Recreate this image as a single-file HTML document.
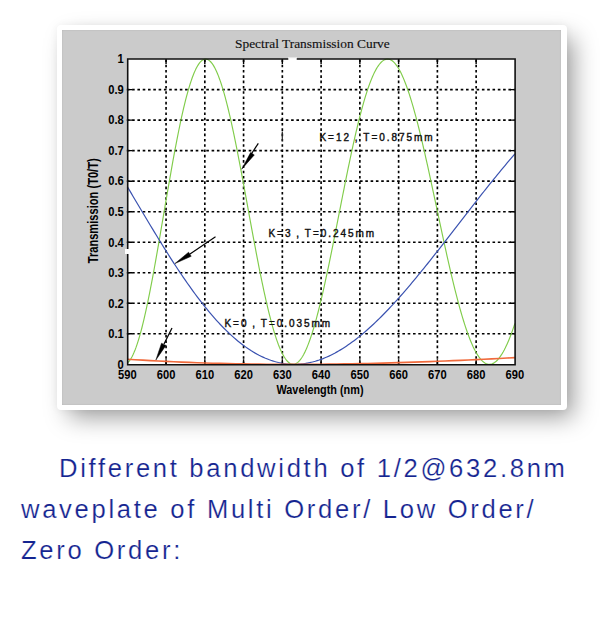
<!DOCTYPE html>
<html><head><meta charset="utf-8">
<style>
html,body{margin:0;padding:0;background:#fff;}
body{width:600px;height:618px;position:relative;overflow:hidden;font-family:"Liberation Sans",sans-serif;}
.card{position:absolute;left:57px;top:25px;width:509.5px;height:385px;background:#fff;border-radius:4px;
box-shadow:9px 10px 24px -3px rgba(0,0,0,0.40), 0 0 9px rgba(0,0,0,0.05);}
.gray{position:absolute;left:5.3px;top:5px;width:499px;height:374.5px;background:#cbcbcb;box-shadow:inset 0 0 1.5px rgba(0,0,0,0.18);}
svg{position:absolute;left:0;top:0;}
.txt{position:absolute;left:21px;top:447.8px;width:580px;color:#142490;font-size:25.6px;line-height:41.3px;letter-spacing:2.7px;-webkit-text-stroke:0.2px #fff;}
.txt p{margin:0;white-space:nowrap;}
</style></head><body>
<div class="card"><div class="gray"></div></div>
<svg width="600" height="618" viewBox="0 0 600 618">
<rect x="127.3" y="59.1" width="387.60" height="305.20" fill="#fff"/>
<g stroke="#000" stroke-width="1.65" stroke-dasharray="2.6 2.7">
<line x1="166.06" y1="59.40" x2="166.06" y2="364.30"/>
<line x1="204.82" y1="59.40" x2="204.82" y2="364.30"/>
<line x1="243.58" y1="59.40" x2="243.58" y2="364.30"/>
<line x1="282.34" y1="59.40" x2="282.34" y2="364.30"/>
<line x1="321.10" y1="59.40" x2="321.10" y2="364.30"/>
<line x1="359.86" y1="59.40" x2="359.86" y2="364.30"/>
<line x1="398.62" y1="59.40" x2="398.62" y2="364.30"/>
<line x1="437.38" y1="59.40" x2="437.38" y2="364.30"/>
<line x1="476.14" y1="59.40" x2="476.14" y2="364.30"/>
<line x1="126.80" y1="333.78" x2="514.90" y2="333.78"/>
<line x1="126.80" y1="303.26" x2="514.90" y2="303.26"/>
<line x1="126.80" y1="272.74" x2="514.90" y2="272.74"/>
<line x1="126.80" y1="242.22" x2="514.90" y2="242.22"/>
<line x1="126.80" y1="211.70" x2="514.90" y2="211.70"/>
<line x1="126.80" y1="181.18" x2="514.90" y2="181.18"/>
<line x1="126.80" y1="150.66" x2="514.90" y2="150.66"/>
<line x1="126.80" y1="120.14" x2="514.90" y2="120.14"/>
<line x1="126.80" y1="89.62" x2="514.90" y2="89.62"/>
</g>
<path d="M166.06,59.10V64.10M166.06,364.30V359.30M204.82,59.10V64.10M204.82,364.30V359.30M243.58,59.10V64.10M243.58,364.30V359.30M282.34,59.10V64.10M282.34,364.30V359.30M321.10,59.10V64.10M321.10,364.30V359.30M359.86,59.10V64.10M359.86,364.30V359.30M398.62,59.10V64.10M398.62,364.30V359.30M437.38,59.10V64.10M437.38,364.30V359.30M476.14,59.10V64.10M476.14,364.30V359.30M127.30,333.78H132.30M514.90,333.78H509.90M127.30,303.26H132.30M514.90,303.26H509.90M127.30,272.74H132.30M514.90,272.74H509.90M127.30,242.22H132.30M514.90,242.22H509.90M127.30,211.70H132.30M514.90,211.70H509.90M127.30,181.18H132.30M514.90,181.18H509.90M127.30,150.66H132.30M514.90,150.66H509.90M127.30,120.14H132.30M514.90,120.14H509.90M127.30,89.62H132.30M514.90,89.62H509.90" stroke="#000" stroke-width="1.4" fill="none"/>
<path d="M127.30,363.02 128.27,362.14 129.24,361.05 130.21,359.73 131.18,358.20 132.15,356.45 133.11,354.49 134.08,352.32 135.05,349.95 136.02,347.38 136.99,344.61 137.96,341.65 138.93,338.50 139.90,335.17 140.87,331.66 141.84,327.98 142.80,324.14 143.77,320.14 144.74,315.98 145.71,311.68 146.68,307.24 147.65,302.66 148.62,297.96 149.59,293.14 150.56,288.20 151.53,283.16 152.49,278.03 153.46,272.80 154.43,267.49 155.40,262.11 156.37,256.65 157.34,251.15 158.31,245.58 159.28,239.98 160.25,234.34 161.21,228.68 162.18,222.99 163.15,217.30 164.12,211.60 165.09,205.90 166.06,200.22 167.03,194.56 168.00,188.93 168.97,183.33 169.94,177.78 170.91,172.28 171.87,166.84 172.84,161.46 173.81,156.16 174.78,150.94 175.75,145.81 176.72,140.77 177.69,135.83 178.66,130.99 179.63,126.28 180.59,121.68 181.56,117.21 182.53,112.87 183.50,108.66 184.47,104.60 185.44,100.69 186.41,96.92 187.38,93.32 188.35,89.88 189.32,86.60 190.28,83.49 191.25,80.56 192.22,77.80 193.19,75.22 194.16,72.83 195.13,70.62 196.10,68.60 197.07,66.77 198.04,65.13 199.01,63.69 199.97,62.44 200.94,61.39 201.91,60.53 202.88,59.88 203.85,59.42 204.82,59.16 205.79,59.10 206.76,59.24 207.73,59.58 208.70,60.11 209.66,60.84 210.63,61.76 211.60,62.87 212.57,64.18 213.54,65.67 214.51,67.35 215.48,69.21 216.45,71.25 217.42,73.47 218.39,75.86 219.35,78.43 220.32,81.16 221.29,84.05 222.26,87.10 223.23,90.31 224.20,93.67 225.17,97.17 226.14,100.82 227.11,104.60 228.08,108.51 229.04,112.55 230.01,116.71 230.98,120.98 231.95,125.36 232.92,129.85 233.89,134.43 234.86,139.11 235.83,143.87 236.80,148.71 237.77,153.63 238.73,158.61 239.70,163.65 240.67,168.75 241.64,173.90 242.61,179.09 243.58,184.32 244.55,189.57 245.52,194.85 246.49,200.14 247.46,205.44 248.42,210.75 249.39,216.05 250.36,221.35 251.33,226.62 252.30,231.88 253.27,237.11 254.24,242.30 255.21,247.45 256.18,252.55 257.15,257.61 258.12,262.60 259.08,267.53 260.05,272.39 261.02,277.17 261.99,281.87 262.96,286.49 263.93,291.01 264.90,295.43 265.87,299.76 266.84,303.98 267.81,308.08 268.77,312.07 269.74,315.94 270.71,319.68 271.68,323.30 272.65,326.78 273.62,330.13 274.59,333.34 275.56,336.40 276.53,339.32 277.50,342.08 278.46,344.70 279.43,347.16 280.40,349.46 281.37,351.60 282.34,353.58 283.31,355.40 284.28,357.05 285.25,358.54 286.22,359.85 287.19,361.00 288.15,361.98 289.12,362.79 290.09,363.42 291.06,363.88 292.03,364.18 293.00,364.30 293.97,364.25 294.94,364.02 295.91,363.63 296.88,363.07 297.84,362.34 298.81,361.44 299.78,360.38 300.75,359.15 301.72,357.76 302.69,356.21 303.66,354.50 304.63,352.63 305.60,350.61 306.56,348.44 307.53,346.12 308.50,343.66 309.47,341.05 310.44,338.30 311.41,335.42 312.38,332.40 313.35,329.26 314.32,325.99 315.29,322.60 316.25,319.09 317.22,315.47 318.19,311.74 319.16,307.90 320.13,303.97 321.10,299.93 322.07,295.81 323.04,291.60 324.01,287.30 324.98,282.93 325.94,278.49 326.91,273.98 327.88,269.41 328.85,264.78 329.82,260.09 330.79,255.36 331.76,250.59 332.73,245.78 333.70,240.93 334.67,236.06 335.63,231.17 336.60,226.26 337.57,221.34 338.54,216.42 339.51,211.49 340.48,206.57 341.45,201.65 342.42,196.75 343.39,191.87 344.36,187.02 345.32,182.19 346.29,177.40 347.26,172.64 348.23,167.93 349.20,163.27 350.17,158.66 351.14,154.11 352.11,149.63 353.08,145.20 354.05,140.85 355.01,136.58 355.98,132.39 356.95,128.27 357.92,124.25 358.89,120.32 359.86,116.48 360.83,112.75 361.80,109.11 362.77,105.58 363.74,102.16 364.70,98.85 365.67,95.66 366.64,92.59 367.61,89.64 368.58,86.81 369.55,84.11 370.52,81.53 371.49,79.09 372.46,76.78 373.43,74.61 374.39,72.57 375.36,70.67 376.33,68.91 377.30,67.30 378.27,65.82 379.24,64.49 380.21,63.31 381.18,62.27 382.15,61.37 383.12,60.63 384.08,60.03 385.05,59.58 386.02,59.28 386.99,59.12 387.96,59.11 388.93,59.25 389.90,59.54 390.87,59.97 391.84,60.55 392.81,61.27 393.77,62.14 394.74,63.15 395.71,64.30 396.68,65.58 397.65,67.01 398.62,68.57 399.59,70.27 400.56,72.10 401.53,74.06 402.50,76.15 403.46,78.37 404.43,80.71 405.40,83.17 406.37,85.75 407.34,88.44 408.31,91.25 409.28,94.17 410.25,97.20 411.22,100.33 412.19,103.56 413.16,106.89 414.12,110.32 415.09,113.84 416.06,117.44 417.03,121.13 418.00,124.90 418.97,128.74 419.94,132.66 420.91,136.65 421.88,140.71 422.84,144.83 423.81,149.00 424.78,153.23 425.75,157.51 426.72,161.83 427.69,166.20 428.66,170.61 429.63,175.05 430.60,179.51 431.57,184.01 432.53,188.53 433.50,193.06 434.47,197.61 435.44,202.16 436.41,206.72 437.38,211.29 438.35,215.85 439.32,220.40 440.29,224.94 441.26,229.47 442.22,233.97 443.19,238.46 444.16,242.91 445.13,247.34 446.10,251.73 447.07,256.08 448.04,260.40 449.01,264.66 449.98,268.87 450.95,273.04 451.91,277.14 452.88,281.19 453.85,285.17 454.82,289.08 455.79,292.92 456.76,296.69 457.73,300.39 458.70,304.00 459.67,307.54 460.64,310.98 461.61,314.34 462.57,317.61 463.54,320.78 464.51,323.86 465.48,326.84 466.45,329.72 467.42,332.50 468.39,335.17 469.36,337.73 470.33,340.19 471.29,342.53 472.26,344.76 473.23,346.88 474.20,348.88 475.17,350.76 476.14,352.53 477.11,354.18 478.08,355.70 479.05,357.10 480.02,358.38 480.98,359.54 481.95,360.57 482.92,361.48 483.89,362.26 484.86,362.91 485.83,363.44 486.80,363.84 487.77,364.12 488.74,364.27 489.71,364.29 490.67,364.19 491.64,363.96 492.61,363.61 493.58,363.14 494.55,362.53 495.52,361.81 496.49,360.97 497.46,360.00 498.43,358.91 499.40,357.70 500.37,356.38 501.33,354.94 502.30,353.38 503.27,351.71 504.24,349.93 505.21,348.04 506.18,346.04 507.15,343.94 508.12,341.72 509.09,339.41 510.06,337.00 511.02,334.48 511.99,331.87 512.96,329.17 513.93,326.38 514.90,323.49" fill="none" stroke="#80cc4a" stroke-width="1.15"/>
<path d="M127.30,186.66 129.24,189.92 131.18,193.18 133.11,196.44 135.05,199.70 136.99,202.97 138.93,206.23 140.87,209.49 142.80,212.75 144.74,215.99 146.68,219.24 148.62,222.47 150.56,225.69 152.49,228.90 154.43,232.10 156.37,235.29 158.31,238.45 160.25,241.61 162.18,244.74 164.12,247.85 166.06,250.94 168.00,254.01 169.94,257.06 171.87,260.08 173.81,263.07 175.75,266.04 177.69,268.98 179.63,271.89 181.56,274.77 183.50,277.62 185.44,280.44 187.38,283.22 189.32,285.97 191.25,288.68 193.19,291.36 195.13,293.99 197.07,296.59 199.01,299.15 200.94,301.67 202.88,304.15 204.82,306.59 206.76,308.98 208.70,311.33 210.63,313.64 212.57,315.90 214.51,318.12 216.45,320.29 218.39,322.41 220.32,324.48 222.26,326.51 224.20,328.49 226.14,330.42 228.08,332.29 230.01,334.12 231.95,335.90 233.89,337.63 235.83,339.30 237.77,340.92 239.70,342.49 241.64,344.01 243.58,345.47 245.52,346.88 247.46,348.24 249.39,349.54 251.33,350.79 253.27,351.98 255.21,353.12 257.15,354.20 259.08,355.23 261.02,356.20 262.96,357.12 264.90,357.99 266.84,358.79 268.77,359.54 270.71,360.24 272.65,360.88 274.59,361.47 276.53,362.00 278.46,362.47 280.40,362.89 282.34,363.26 284.28,363.57 286.22,363.82 288.15,364.02 290.09,364.17 292.03,364.26 293.97,364.30 295.91,364.28 297.84,364.21 299.78,364.09 301.72,363.91 303.66,363.69 305.60,363.41 307.53,363.07 309.47,362.69 311.41,362.25 313.35,361.77 315.29,361.23 317.22,360.64 319.16,360.01 321.10,359.32 323.04,358.59 324.98,357.80 326.91,356.97 328.85,356.10 330.79,355.17 332.73,354.20 334.67,353.19 336.60,352.13 338.54,351.02 340.48,349.87 342.42,348.68 344.36,347.44 346.29,346.17 348.23,344.85 350.17,343.49 352.11,342.09 354.05,340.65 355.98,339.17 357.92,337.65 359.86,336.10 361.80,334.51 363.74,332.88 365.67,331.21 367.61,329.52 369.55,327.78 371.49,326.02 373.43,324.22 375.36,322.39 377.30,320.52 379.24,318.63 381.18,316.71 383.12,314.75 385.05,312.77 386.99,310.76 388.93,308.73 390.87,306.67 392.81,304.58 394.74,302.47 396.68,300.33 398.62,298.17 400.56,295.99 402.50,293.78 404.43,291.56 406.37,289.31 408.31,287.05 410.25,284.77 412.19,282.47 414.12,280.15 416.06,277.81 418.00,275.46 419.94,273.10 421.88,270.72 423.81,268.33 425.75,265.92 427.69,263.50 429.63,261.07 431.57,258.64 433.50,256.19 435.44,253.73 437.38,251.26 439.32,248.79 441.26,246.31 443.19,243.83 445.13,241.34 447.07,238.84 449.01,236.34 450.95,233.84 452.88,231.34 454.82,228.83 456.76,226.32 458.70,223.81 460.64,221.31 462.57,218.80 464.51,216.30 466.45,213.80 468.39,211.30 470.33,208.80 472.26,206.31 474.20,203.83 476.14,201.35 478.08,198.88 480.02,196.41 481.95,193.95 483.89,191.50 485.83,189.06 487.77,186.63 489.71,184.21 491.64,181.79 493.58,179.39 495.52,177.01 497.46,174.63 499.40,172.27 501.33,169.92 503.27,167.58 505.21,165.26 507.15,162.96 509.09,160.67 511.02,158.40 512.96,156.14 514.90,153.90" fill="none" stroke="#3a52b0" stroke-width="1.2"/>
<path d="M127.30,359.20 135.05,359.69 142.80,360.16 150.56,360.60 158.31,361.01 166.06,361.40 173.81,361.76 181.56,362.09 189.32,362.40 197.07,362.68 204.82,362.94 212.57,363.18 220.32,363.39 228.08,363.58 235.83,363.74 243.58,363.88 251.33,364.01 259.08,364.11 266.84,364.18 274.59,364.24 282.34,364.28 290.09,364.30 297.84,364.30 305.60,364.28 313.35,364.24 321.10,364.18 328.85,364.10 336.60,364.01 344.36,363.89 352.11,363.76 359.86,363.62 367.61,363.46 375.36,363.28 383.12,363.08 390.87,362.87 398.62,362.65 406.37,362.41 414.12,362.15 421.88,361.88 429.63,361.60 437.38,361.30 445.13,360.99 452.88,360.67 460.64,360.34 468.39,359.99 476.14,359.63 483.89,359.25 491.64,358.87 499.40,358.47 507.15,358.07 514.90,357.65" fill="none" stroke="#f06a3c" stroke-width="1.6"/>
<path d="M127.6,59.0 H515.1 M127.6,364.8 H515.1 M127.7,58.2 V365.6 M515.1,58.2 V365.6" fill="none" stroke="#111" stroke-width="1.6"/>
<rect x="288.3" y="57" width="8.4" height="3.6" fill="#fff"/><rect x="288.3" y="57" width="8.4" height="1.2" fill="#e4e4e4"/>
<rect x="125" y="249" width="4" height="5" fill="#fff"/>
<line x1="282.3" y1="131.5" x2="282.3" y2="141" stroke="#222" stroke-width="1.2"/>
<g font-family="Liberation Serif" font-size="13.4" fill="#111" stroke="#111" stroke-width="0.15"><text x="235" y="48">Spectral Transmission Curve</text></g>
<g font-family="Liberation Sans" font-weight="bold" font-size="12" fill="#000">
<text transform="translate(123.8,368.60) scale(0.93,1)" text-anchor="end">0</text>
<text transform="translate(123.8,338.08) scale(0.93,1)" text-anchor="end">0.1</text>
<text transform="translate(123.8,307.56) scale(0.93,1)" text-anchor="end">0.2</text>
<text transform="translate(123.8,277.04) scale(0.93,1)" text-anchor="end">0.3</text>
<text transform="translate(123.8,246.52) scale(0.93,1)" text-anchor="end">0.4</text>
<text transform="translate(123.8,216.00) scale(0.93,1)" text-anchor="end">0.5</text>
<text transform="translate(123.8,185.48) scale(0.93,1)" text-anchor="end">0.6</text>
<text transform="translate(123.8,154.96) scale(0.93,1)" text-anchor="end">0.7</text>
<text transform="translate(123.8,124.44) scale(0.93,1)" text-anchor="end">0.8</text>
<text transform="translate(123.8,93.92) scale(0.93,1)" text-anchor="end">0.9</text>
<text transform="translate(123.8,63.40) scale(0.93,1)" text-anchor="end">1</text>
<text transform="translate(127.30,378.7) scale(0.93,1)" text-anchor="middle">590</text>
<text transform="translate(166.06,378.7) scale(0.93,1)" text-anchor="middle">600</text>
<text transform="translate(204.82,378.7) scale(0.93,1)" text-anchor="middle">610</text>
<text transform="translate(243.58,378.7) scale(0.93,1)" text-anchor="middle">620</text>
<text transform="translate(282.34,378.7) scale(0.93,1)" text-anchor="middle">630</text>
<text transform="translate(321.10,378.7) scale(0.93,1)" text-anchor="middle">640</text>
<text transform="translate(359.86,378.7) scale(0.93,1)" text-anchor="middle">650</text>
<text transform="translate(398.62,378.7) scale(0.93,1)" text-anchor="middle">660</text>
<text transform="translate(437.38,378.7) scale(0.93,1)" text-anchor="middle">670</text>
<text transform="translate(476.14,378.7) scale(0.93,1)" text-anchor="middle">680</text>
<text transform="translate(514.90,378.7) scale(0.93,1)" text-anchor="middle">690</text>
<text transform="translate(320.0,393.8) scale(0.905,1)" text-anchor="middle">Wavelength (nm)</text>
<text transform="translate(97.9,210.8) rotate(-90) scale(0.795,1)" text-anchor="middle" font-size="14">Transmission (T0/T)</text>
</g>
<g font-family="Liberation Sans" font-size="10" fill="#111" stroke="#111" stroke-width="0.4" letter-spacing="1.95" word-spacing="-0.8">
<text x="319.5" y="140.7">K=12 , T=0.875mm</text>
<text x="268.5" y="237.4">K=3 , T=0.245mm</text>
<text x="224.5" y="327">K=0 , T=0.035mm</text>
</g>
<g stroke="#000" stroke-width="1.2" fill="#000">
<line x1="258.3" y1="143.3" x2="248" y2="159"/>
<path d="M241.7,169.2 L250.6,152.5 L254.3,154.9 Z" stroke-width="0.5"/>
<line x1="215.5" y1="236.8" x2="190" y2="254"/>
<path d="M175,263.5 L188.6,252.2 L191.2,256.3 Z" stroke-width="0.5"/>
<line x1="172" y1="328" x2="164" y2="344"/>
<path d="M155.9,360 L161.5,343.2 L165.9,345.4 Z" stroke-width="0.5"/>
</g>
</svg>
<div class="txt">
<p style="text-indent:38px">Different bandwidth of 1/2@632.8nm</p>
<p>waveplate of Multi Order/ Low Order/</p>
<p>Zero Order:</p>
</div>
</body></html>
